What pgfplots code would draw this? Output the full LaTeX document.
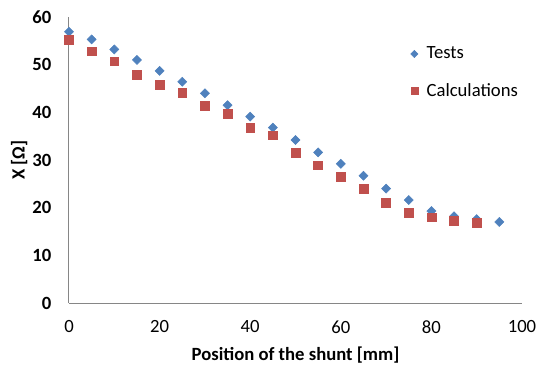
\documentclass[border=0pt]{standalone}
\usepackage{pgfplots}
\pgfplotsset{compat=1.18}
\usepackage{fontspec}
\setmainfont{Carlito}
\definecolor{tblue}{HTML}{4F81BD}
\definecolor{cred}{HTML}{C0504D}
\definecolor{axgray}{HTML}{868686}
\begin{document}
\begin{tikzpicture}
\path[use as bounding box] (-51.75pt,-46.5pt) rectangle (353.25pt,227.25pt);
\begin{axis}[
  at={(0pt,0pt)}, anchor=south west,
  scale only axis, width=339.75pt, height=214.5pt,
  xmin=0, xmax=100, ymin=0, ymax=60,
  xtick={0,20,...,100}, ytick={0,10,...,60},
  separate axis lines,
  axis x line=bottom, axis y line=left,
  axis line style={draw=axgray, line width=0.75pt, -},
  major tick length=0pt,
  /pgf/number format/assume math mode=true,
  tick label style={font=\fontsize{14}{16}\selectfont, inner sep=0pt},
  yticklabel style={font=\fontsize{14}{16}\selectfont\bfseries, anchor=east, xshift=-13pt},
  xticklabel style={anchor=north, yshift=-13pt},
  xlabel={\bfseries Position of the shunt [mm]},
  ylabel={\bfseries X [Ω]},
  label style={font=\fontsize{14}{16}\selectfont},
  xlabel style={at={(axis description cs:0.5,0)}, anchor=north, yshift=-33pt, inner sep=0pt},
  ylabel style={at={(axis description cs:0,0.5)}, anchor=south, rotate=0, xshift=0pt, yshift=31pt, inner sep=0pt},
  legend style={draw=none, fill=none, at={(0.745,0.915)}, anchor=north west,
    font=\fontsize{14}{16}\selectfont, row sep=13pt, cells={anchor=west}},
  legend image code/.code={\draw[#1,/tikz/every mark/.append style={scale=0.8}] plot coordinates {(0pt,0pt)}; \path (7pt,0pt);},
  clip=false,
]
\addplot[only marks, mark=square*, mark size=2.4pt, mark options={rotate=45, draw=tblue, fill=tblue}]
coordinates {
(0,56.9) (5,55.3) (10,53.2) (15,51.0) (20,48.7) (25,46.4) (30,44.0) (35,41.5) (40,39.1) (45,36.8)
(50,34.2) (55,31.6) (60,29.2) (65,26.7) (70,24.0) (75,21.6) (80,19.3) (85,18.2) (90,17.6) (95,17.0)
};
\addlegendentry{Tests}
\addplot[only marks, mark=square*, mark size=3.3pt, mark options={draw=cred, fill=cred}]
coordinates {
(0,55.3) (5,52.8) (10,50.7) (15,47.9) (20,45.8) (25,44.1) (30,41.4) (35,39.7) (40,36.7) (45,35.2)
(50,31.6) (55,28.9) (60,26.4) (65,23.9) (70,21.1) (75,19.0) (80,18.0) (85,17.3) (90,16.9)
};
\addlegendentry{Calculations}
\end{axis}
\end{tikzpicture}
\end{document}
